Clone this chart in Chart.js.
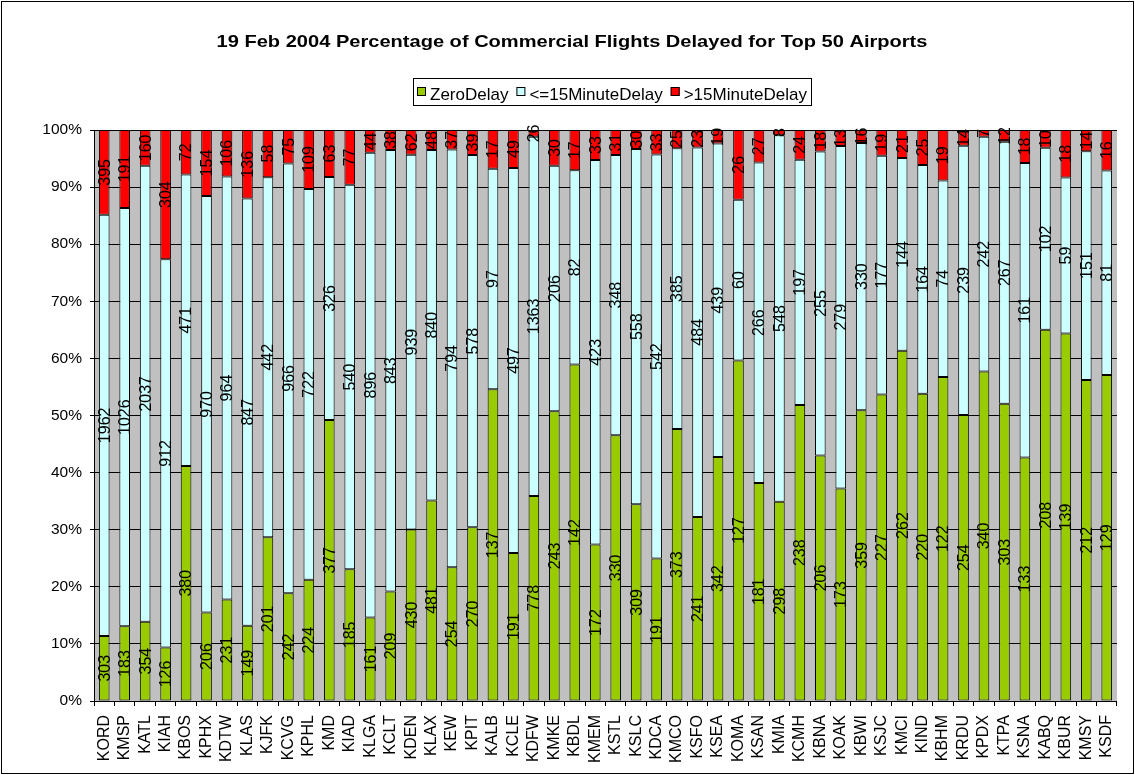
<!DOCTYPE html>
<html>
<head>
<meta charset="utf-8">
<script src="https://cdn.jsdelivr.net/npm/chart.js@4.4.0/dist/chart.umd.min.js"></script>
<style>
  body { margin: 0; background: #fff; }
  #wrap { width: 1135px; height: 775px; }
</style>
</head>
<body>
<div id="wrap"><canvas id="delayChart" width="1135" height="775"></canvas></div>
<script>
// Airports and flight counts per delay class
const airports = ['KORD','KMSP','KATL','KIAH','KBOS','KPHX','KDTW','KLAS','KJFK','KCVG',
    'KPHL','KMD','KIAD','KLGA','KCLT','KDEN','KLAX','KEW','KPIT','KALB',
    'KCLE','KDFW','KMKE','KBDL','KMEM','KSTL','KSLC','KDCA','KMCO','KSFO',
    'KSEA','KOMA','KSAN','KMIA','KCMH','KBNA','KOAK','KBWI','KSJC','KMCI',
    'KIND','KBHM','KRDU','KPDX','KTPA','KSNA','KABQ','KBUR','KMSY','KSDF'];

const zeroDelay = [303, 183, 354, 126, 380, 206, 231, 149, 201, 242,
    224, 377, 185, 161, 209, 430, 481, 254, 270, 137,
    191, 778, 243, 142, 172, 330, 309, 191, 373, 241,
    342, 127, 181, 298, 238, 206, 173, 359, 227, 262,
    220, 122, 254, 340, 303, 133, 208, 139, 212, 129];

const shortDelay = [1962, 1026, 2037, 912, 471, 970, 964, 847, 442, 966,
    722, 326, 540, 896, 843, 939, 840, 794, 578, 97,
    497, 1363, 206, 82, 423, 348, 558, 542, 385, 484,
    439, 60, 266, 548, 197, 255, 279, 330, 177, 144,
    164, 74, 239, 242, 267, 161, 102, 59, 151, 81];

const longDelay = [395, 191, 160, 304, 72, 154, 106, 136, 58, 75,
    109, 63, 77, 44, 38, 62, 48, 37, 39, 17,
    49, 26, 30, 17, 33, 31, 30, 33, 25, 23,
    19, 26, 27, 8, 24, 18, 13, 16, 19, 21,
    25, 19, 14, 7, 12, 18, 10, 18, 14, 16];

const seriesNames = ['ZeroDelay', '<=15MinuteDelay', '>15MinuteDelay'];
const yTicks = [0, 10, 20, 30, 40, 50, 60, 70, 80, 90, 100];

const FONT = "Arial, 'Liberation Sans', sans-serif";
const colors = ['#99CC00', '#CCFFFF', '#FF0000'];
const counts = [zeroDelay, shortDelay, longDelay];

// percentage of total for each airport
const totals = airports.map((a, i) => zeroDelay[i] + shortDelay[i] + longDelay[i]);
const toPct = arr => arr.map((v, i) => v / totals[i] * 100);

// grey plot area, white page, frame
const backgroundPlugin = {
    id: 'plotBackground',
    beforeDraw(chart) {
        const { ctx, chartArea: a } = chart;
        ctx.save();
        ctx.fillStyle = '#fff';
        ctx.fillRect(0, 0, chart.width, chart.height);
        ctx.fillStyle = '#C0C0C0';
        ctx.fillRect(a.left, a.top, a.right - a.left, a.bottom - a.top);
        ctx.restore();
    },
    afterDraw(chart) {
        const ctx = chart.ctx;
        ctx.save();
        ctx.strokeStyle = '#000';
        ctx.lineWidth = 1;
        ctx.strokeRect(1.5, 1.5, chart.width - 3, chart.height - 3);
        ctx.restore();
    }
};

// vertical count labels in the middle of each segment
const countLabels = {
    id: 'countLabels',
    afterDatasetsDraw(chart) {
        const ctx = chart.ctx;
        ctx.save();
        ctx.font = '16px ' + FONT;
        ctx.fillStyle = '#000';
        ctx.textAlign = 'center';
        ctx.textBaseline = 'middle';
        chart.data.datasets.forEach((ds, i) => {
            chart.getDatasetMeta(i).data.forEach((el, j) => {
                const y = (el.y + el.base) / 2;
                ctx.save();
                ctx.translate(el.x, y);
                ctx.rotate(-Math.PI / 2);
                ctx.fillText(String(counts[i][j]), 0, 1);
                ctx.restore();
            });
        });
        ctx.restore();
    }
};

// title and boxed legend, drawn like the spreadsheet version
const titleLegend = {
    id: 'titleLegend',
    afterDraw(chart) {
        const ctx = chart.ctx;
        ctx.save();
        ctx.fillStyle = '#000';
        ctx.textBaseline = 'alphabetic';
        ctx.textAlign = 'center';
        ctx.font = 'bold 17px ' + FONT;
        ctx.save();
        ctx.translate(572, 47);
        ctx.scale(1.18, 1);
        ctx.fillText('19 Feb 2004 Percentage of Commercial Flights Delayed for Top 50 Airports', 0, 0);
        ctx.restore();

        ctx.font = '17px ' + FONT;
        ctx.textAlign = 'left';
        const box = 9, gap = 4, itemGap = 8, pad = 4;
        const widths = seriesNames.map(n => ctx.measureText(n).width);
        let total = pad * 2;
        widths.forEach((w, i) => { total += box + gap + w + (i < widths.length - 1 ? itemGap : 0); });
        const cx = 612, top = 78, h = 27;
        let x = Math.round(cx - total / 2);
        ctx.strokeStyle = '#000';
        ctx.lineWidth = 1;
        ctx.strokeRect(x + 0.5, top + 0.5, Math.round(total), h);
        x += pad;
        seriesNames.forEach((n, i) => {
            ctx.fillStyle = colors[i];
            ctx.fillRect(x, 87, box, box);
            ctx.strokeRect(x + 0.5, 87.5, box - 1, box - 1);
            ctx.fillStyle = '#000';
            ctx.fillText(n, x + box + gap, 100);
            x += box + gap + widths[i] + itemGap;
        });
        ctx.restore();
    }
};

const ctx = document.getElementById('delayChart').getContext('2d');
new Chart(ctx, {
    type: 'bar',
    data: {
        labels: airports,
        datasets: seriesNames.map((name, i) => ({
            label: name,
            data: toPct(counts[i]),
            backgroundColor: colors[i],
            borderColor: '#000',
            borderWidth: 1,
            borderSkipped: false,
            barPercentage: 0.52,
            categoryPercentage: 1.0
        }))
    },
    options: {
        responsive: false,
        animation: false,
        layout: { padding: { top: 130, right: 6, bottom: 0, left: 0 } },
        plugins: {
            legend: { display: false },
            title: { display: false },
            tooltip: { enabled: false }
        },
        scales: {
            x: {
                stacked: true,
                afterFit(scale) { scale.height = 74; },
                grid: { offset: true, drawOnChartArea: false, color: '#000', tickLength: 5 },
                border: { color: '#000', width: 1 },
                ticks: {
                    color: '#000',
                    font: { family: FONT, size: 16 },
                    minRotation: 90,
                    maxRotation: 90,
                    autoSkip: false,
                    padding: 9
                }
            },
            y: {
                stacked: true,
                min: 0,
                max: 100,
                afterFit(scale) { scale.width = 94; },
                afterBuildTicks(scale) { scale.ticks = yTicks.map(v => ({ value: v })); },
                grid: { color: '#000', lineWidth: 1, tickLength: 4 },
                border: { color: '#000', width: 1 },
                ticks: {
                    color: '#000',
                    font: { family: FONT, size: 15.5 },
                    padding: 8,
                    callback: v => v + '%'
                }
            }
        }
    },
    plugins: [backgroundPlugin, countLabels, titleLegend]
});
</script>
</body>
</html>
